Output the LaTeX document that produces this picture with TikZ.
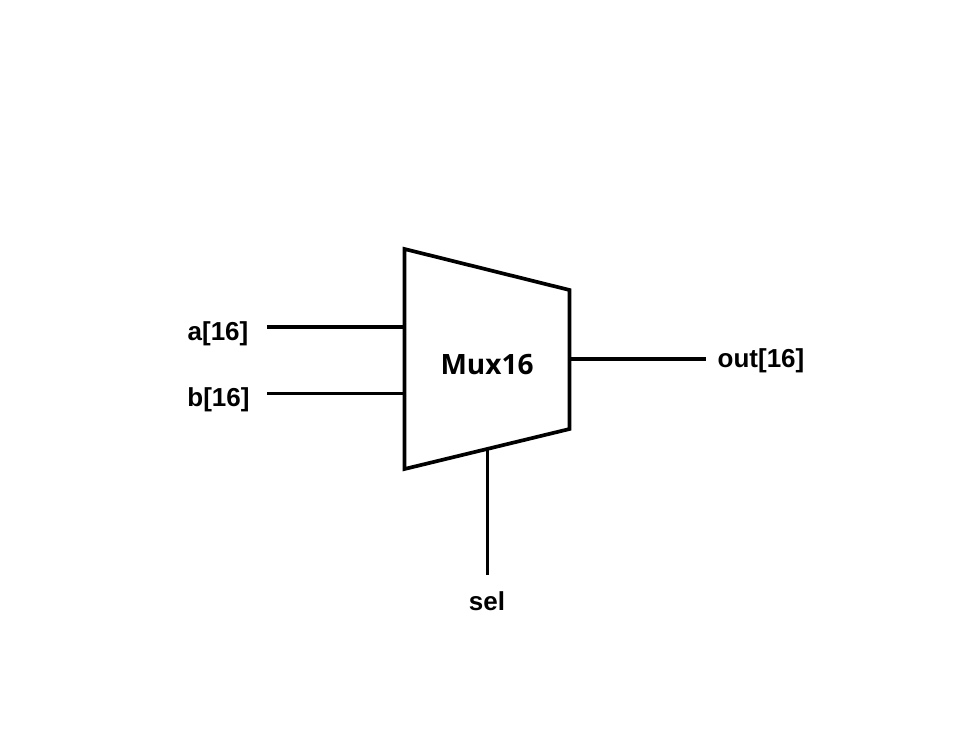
\documentclass[tikz,border=0pt]{standalone}
\usepackage{fontspec}
\setmainfont{Liberation Sans}
\newfontfamily\comic{Open Sans}
\begin{document}
\begin{tikzpicture}[x=1pt,y=-1pt,
 wire/.style={line width=3.7pt},
 lab/.style={font=\fontsize{26}{28}\selectfont\bfseries,inner sep=0pt,text=black}]
\useasboundingbox (0,0) rectangle (960,745);
\fill[white] (0,0) rectangle (960,745);
\coordinate (tl) at (404.5,249);
\coordinate (tr) at (569.5,290);
\coordinate (br) at (569.5,429);
\coordinate (bl) at (404.5,469);
\draw[wire,line join=miter] (tl) -- (tr) -- (br) -- (bl) -- cycle;
\node[font=\fontsize{28}{30}\selectfont\comic\bfseries,inner sep=0pt] (m) at (487,365) {Mux16};
\coordinate (ain) at (404.5,327);
\coordinate (bin) at (404.5,393.5);
\coordinate (oout) at (569.5,359);
\coordinate (ssel) at (487.5,449);
\coordinate (a0) at (267,327);
\coordinate (b0) at (267,393.5);
\coordinate (o1) at (706,359);
\coordinate (s1) at (487.5,575);
\draw[wire] (a0) -- (ain);
\draw[wire] (b0) -- (bin);
\draw[wire] (oout) -- (o1);
\draw[wire] (ssel) -- (s1);
\node[lab] (la) at (218,333.5) {a[16]};
\node[lab] (lb) at (218.5,399.5) {b[16]};
\node[lab] (lo) at (761,360.5) {out[16]};
\node[lab] (ls) at (487,601) {sel};
\end{tikzpicture}
\end{document}
